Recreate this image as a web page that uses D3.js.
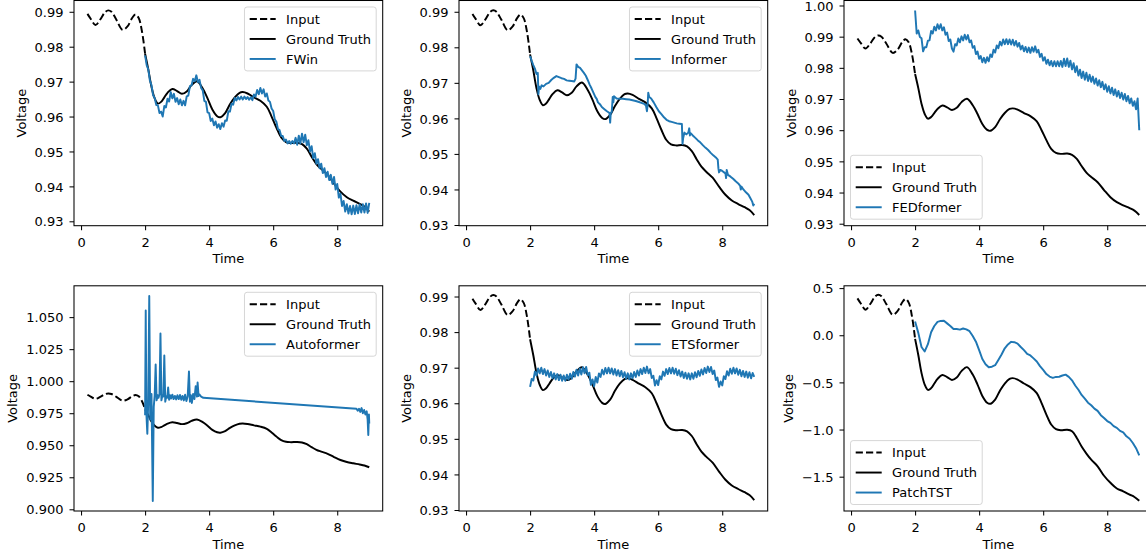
<!DOCTYPE html>
<html>
<head>
<meta charset="utf-8">
<script src="https://cdn.jsdelivr.net/npm/d3@7"></script>
<style>
  body { margin: 0; background: #fff; }
  svg { display: block; font-family: "DejaVu Sans", sans-serif; }
</style>
</head>
<body>
<script>
const width = 1146
const height = 558

// observed window (dashed) and ground truth, raw voltage
const inputTime = [0.2, 0.3, 0.45, 0.6, 0.75, 0.85, 0.95, 1.1, 1.3, 1.45, 1.6, 1.7, 1.8, 1.9, 2.0]
const inputVoltage = [0.9894, 0.9880, 0.9862, 0.9878, 0.9899, 0.9904, 0.9900, 0.9878, 0.9848, 0.9858, 0.9883, 0.9892, 0.9882, 0.9845, 0.9780]
const truthTime = [2.0, 2.1, 2.2, 2.3, 2.4, 2.5, 2.6, 2.7, 2.85, 3.0, 3.15, 3.3, 3.45, 3.62, 3.8, 3.95,
  4.1, 4.25, 4.35, 4.5, 4.65, 4.8, 4.95, 5.05, 5.2, 5.4, 5.6, 5.8, 5.95, 6.1, 6.25, 6.4,
  6.55, 6.75, 6.9, 7.05, 7.2, 7.35, 7.5, 7.7, 7.9, 8.1, 8.3, 8.5, 8.7, 8.85, 9.0]
const truthVoltage = [0.9780, 0.9735, 0.9685, 0.9652, 0.9637, 0.9642, 0.9655, 0.9668, 0.9679, 0.9673, 0.9665, 0.9672, 0.9690, 0.9701, 0.9680, 0.9652,
  0.9620, 0.9601, 0.9598, 0.9610, 0.9635, 0.9655, 0.9668, 0.9670, 0.9666, 0.9655, 0.9645, 0.9628, 0.9600, 0.9568, 0.9540, 0.9527,
  0.9524, 0.9525, 0.9521, 0.9508, 0.9485, 0.9464, 0.9450, 0.9433, 0.9408, 0.9385, 0.9369, 0.9359, 0.9350, 0.9342, 0.9328]

// the PatchTST panel is on the normalised scale
const inputScaled = [0.391, 0.339, 0.271, 0.331, 0.410, 0.429, 0.414, 0.331, 0.218, 0.255, 0.350, 0.384, 0.346, 0.206, -0.039]
const truthScaled = [-0.039, -0.210, -0.399, -0.523, -0.580, -0.561, -0.512, -0.463, -0.421, -0.444, -0.474, -0.448, -0.380, -0.338, -0.417, -0.523,
  -0.644, -0.716, -0.727, -0.682, -0.588, -0.512, -0.463, -0.455, -0.470, -0.512, -0.550, -0.614, -0.720, -0.841, -0.947, -0.996,
  -1.007, -1.003, -1.018, -1.090, -1.180, -1.255, -1.320, -1.390, -1.490, -1.565, -1.625, -1.655, -1.690, -1.715, -1.755]

// evenly sampled forecasts, first sample at t = 2.0
const forecastStart = 2.0
const denseStep = 0.05
const fwinVoltage = [
  0.9775, 0.9747, 0.9735, 0.9703, 0.9690, 0.9661, 0.9653, 0.9633, 0.9632, 0.9610,
  0.9614, 0.9600, 0.9630, 0.9626, 0.9651, 0.9643, 0.9670, 0.9652, 0.9665, 0.9642,
  0.9653, 0.9635, 0.9649, 0.9632, 0.9645, 0.9632, 0.9658, 0.9660, 0.9687, 0.9689,
  0.9708, 0.9701, 0.9718, 0.9698, 0.9705, 0.9682, 0.9675, 0.9645, 0.9642, 0.9612,
  0.9610, 0.9587, 0.9594, 0.9575, 0.9586, 0.9568, 0.9578, 0.9564, 0.9581, 0.9571,
  0.9589, 0.9588, 0.9615, 0.9614, 0.9637, 0.9634, 0.9653, 0.9646, 0.9656, 0.9649,
  0.9657, 0.9649, 0.9657, 0.9650, 0.9656, 0.9648, 0.9655, 0.9647, 0.9663, 0.9657,
  0.9676, 0.9664, 0.9682, 0.9666, 0.9678, 0.9657, 0.9666, 0.9646, 0.9642, 0.9623,
  0.9616, 0.9592, 0.9585, 0.9564, 0.9561, 0.9544, 0.9544, 0.9530, 0.9534, 0.9523,
  0.9530, 0.9522, 0.9530, 0.9523, 0.9539, 0.9519, 0.9545, 0.9523, 0.9551, 0.9526,
  0.9548, 0.9518, 0.9532, 0.9500, 0.9515, 0.9481, 0.9495, 0.9465, 0.9478, 0.9452,
  0.9465, 0.9438, 0.9452, 0.9427, 0.9442, 0.9418, 0.9433, 0.9407, 0.9427, 0.9391,
  0.9407, 0.9368, 0.9379, 0.9344, 0.9358, 0.9328, 0.9349, 0.9322, 0.9344, 0.9320,
  0.9345, 0.9321, 0.9346, 0.9323, 0.9348, 0.9325, 0.9349, 0.9325, 0.9351, 0.9324, 0.9353]
const fedformerVoltage = [
  0.9984, 0.9910, 0.9920, 0.9899, 0.9895, 0.9853, 0.9866, 0.9866, 0.9887, 0.9888,
  0.9918, 0.9910, 0.9932, 0.9920, 0.9940, 0.9925, 0.9940, 0.9920, 0.9930, 0.9906,
  0.9913, 0.9886, 0.9891, 0.9862, 0.9852, 0.9876, 0.9872, 0.9894, 0.9882, 0.9901,
  0.9888, 0.9906, 0.9891, 0.9905, 0.9882, 0.9888, 0.9864, 0.9870, 0.9844, 0.9852,
  0.9829, 0.9838, 0.9818, 0.9832, 0.9816, 0.9834, 0.9821, 0.9843, 0.9835, 0.9858,
  0.9849, 0.9872, 0.9863, 0.9884, 0.9872, 0.9891, 0.9876, 0.9892, 0.9876, 0.9891,
  0.9875, 0.9890, 0.9872, 0.9886, 0.9868, 0.9880, 0.9859, 0.9871, 0.9853, 0.9867,
  0.9850, 0.9865, 0.9848, 0.9866, 0.9852, 0.9869, 0.9849, 0.9858, 0.9835, 0.9845,
  0.9823, 0.9834, 0.9813, 0.9826, 0.9808, 0.9822, 0.9805, 0.9821, 0.9805, 0.9821,
  0.9805, 0.9822, 0.9803, 0.9829, 0.9806, 0.9830, 0.9803, 0.9823, 0.9795, 0.9815,
  0.9786, 0.9805, 0.9775, 0.9794, 0.9767, 0.9788, 0.9762, 0.9784, 0.9758, 0.9778,
  0.9755, 0.9772, 0.9749, 0.9766, 0.9743, 0.9760, 0.9738, 0.9755, 0.9731, 0.9747,
  0.9723, 0.9741, 0.9718, 0.9736, 0.9713, 0.9731, 0.9708, 0.9726, 0.9703, 0.9720,
  0.9698, 0.9716, 0.9693, 0.9710, 0.9686, 0.9702, 0.9678, 0.9693, 0.9667, 0.9702, 0.9600]
const etsformerVoltage = [
  0.9646, 0.9668, 0.9664, 0.9689, 0.9678, 0.9698, 0.9684, 0.9700, 0.9682, 0.9696,
  0.9678, 0.9692, 0.9674, 0.9688, 0.9670, 0.9684, 0.9667, 0.9682, 0.9665, 0.9680,
  0.9663, 0.9678, 0.9663, 0.9680, 0.9666, 0.9683, 0.9669, 0.9688, 0.9675, 0.9694,
  0.9678, 0.9698, 0.9681, 0.9701, 0.9684, 0.9702, 0.9679, 0.9686, 0.9652, 0.9667,
  0.9648, 0.9674, 0.9658, 0.9684, 0.9674, 0.9694, 0.9681, 0.9699, 0.9684, 0.9700,
  0.9684, 0.9698, 0.9681, 0.9696, 0.9678, 0.9693, 0.9676, 0.9691, 0.9673, 0.9687,
  0.9669, 0.9684, 0.9667, 0.9684, 0.9670, 0.9688, 0.9674, 0.9692, 0.9678, 0.9696,
  0.9682, 0.9700, 0.9685, 0.9703, 0.9684, 0.9696, 0.9671, 0.9677, 0.9650, 0.9665,
  0.9651, 0.9676, 0.9667, 0.9689, 0.9677, 0.9696, 0.9682, 0.9699, 0.9684, 0.9700,
  0.9683, 0.9697, 0.9679, 0.9693, 0.9675, 0.9689, 0.9671, 0.9686, 0.9669, 0.9684,
  0.9667, 0.9684, 0.9669, 0.9687, 0.9673, 0.9691, 0.9677, 0.9695, 0.9681, 0.9699,
  0.9685, 0.9703, 0.9688, 0.9702, 0.9682, 0.9692, 0.9665, 0.9672, 0.9646, 0.9661,
  0.9650, 0.9676, 0.9668, 0.9690, 0.9678, 0.9697, 0.9683, 0.9700, 0.9684, 0.9698,
  0.9680, 0.9694, 0.9676, 0.9691, 0.9674, 0.9689, 0.9672, 0.9687, 0.9670, 0.9685, 0.9674]
const patchStep = 0.1
const patchtstScaled = [
  0.146, 0.025, -0.125, -0.172, -0.095, 0.032, 0.098, 0.142, 0.152, 0.153,
  0.126, 0.098, 0.066, 0.066, 0.060, 0.072, 0.062, 0.043, -0.008, -0.068,
  -0.158, -0.252, -0.308, -0.340, -0.334, -0.318, -0.262, -0.204, -0.138, -0.097,
  -0.070, -0.074, -0.088, -0.125, -0.158, -0.198, -0.214, -0.245, -0.278, -0.328,
  -0.368, -0.412, -0.438, -0.452, -0.442, -0.440, -0.427, -0.418, -0.442, -0.478,
  -0.533, -0.578, -0.633, -0.672, -0.715, -0.742, -0.778, -0.802, -0.848, -0.877,
  -0.910, -0.930, -0.964, -0.982, -1.014, -1.030, -1.072, -1.098, -1.143, -1.198, -1.275]

// irregular forecasts (jumps and spikes) as [time, voltage]
const informerPoints = [
  [2.00, 0.9775], [2.05, 0.9762], [2.10, 0.9750], [2.15, 0.9740], [2.20, 0.9725], [2.24, 0.9728], [2.26, 0.9668], [2.28, 0.9690],
  [2.32, 0.9683], [2.36, 0.9693], [2.42, 0.9690], [2.50, 0.9697], [2.58, 0.9700], [2.66, 0.9708], [2.74, 0.9714], [2.82, 0.9719],
  [2.90, 0.9716], [2.98, 0.9713], [3.06, 0.9711], [3.14, 0.9707], [3.22, 0.9706], [3.30, 0.9705], [3.38, 0.9704], [3.42, 0.9712],
  [3.45, 0.9752], [3.50, 0.9745], [3.56, 0.9742], [3.62, 0.9735], [3.68, 0.9728], [3.74, 0.9720], [3.80, 0.9708], [3.86, 0.9695],
  [3.92, 0.9684], [3.98, 0.9672], [4.04, 0.9660], [4.08, 0.9655], [4.12, 0.9645], [4.18, 0.9640], [4.24, 0.9632], [4.32, 0.9626],
  [4.40, 0.9620], [4.48, 0.9615], [4.50, 0.9588], [4.52, 0.9616], [4.55, 0.9618], [4.58, 0.9660], [4.60, 0.9645], [4.62, 0.9662],
  [4.70, 0.9656], [4.80, 0.9655], [4.90, 0.9655], [5.00, 0.9654], [5.10, 0.9653], [5.20, 0.9651], [5.30, 0.9649], [5.40, 0.9646],
  [5.50, 0.9643], [5.58, 0.9640], [5.62, 0.9635], [5.65, 0.9620], [5.67, 0.9638], [5.69, 0.9672], [5.72, 0.9660], [5.78, 0.9656],
  [5.86, 0.9645], [5.94, 0.9632], [6.02, 0.9620], [6.10, 0.9612], [6.18, 0.9603], [6.26, 0.9596], [6.34, 0.9592], [6.42, 0.9590],
  [6.50, 0.9588], [6.58, 0.9586], [6.66, 0.9585], [6.74, 0.9584], [6.76, 0.9528], [6.78, 0.9545], [6.82, 0.9560], [6.88, 0.9555],
  [6.94, 0.9560], [6.97, 0.9572], [6.99, 0.9552], [7.02, 0.9558], [7.08, 0.9552], [7.16, 0.9545], [7.24, 0.9538], [7.32, 0.9532],
  [7.40, 0.9524], [7.48, 0.9517], [7.56, 0.9511], [7.64, 0.9503], [7.72, 0.9496], [7.80, 0.9490], [7.86, 0.9484], [7.88, 0.9460],
  [7.90, 0.9448], [7.94, 0.9455], [8.00, 0.9452], [8.06, 0.9448], [8.10, 0.9445], [8.12, 0.9432], [8.14, 0.9455], [8.18, 0.9441],
  [8.26, 0.9436], [8.34, 0.9430], [8.42, 0.9423], [8.50, 0.9417], [8.56, 0.9410], [8.58, 0.9400], [8.60, 0.9408], [8.66, 0.9400],
  [8.74, 0.9392], [8.82, 0.9385], [8.88, 0.9375], [8.94, 0.9365], [8.97, 0.9355], [9.00, 0.9360]]
const autoformerPoints = [
  [2.00, 0.9735], [2.02, 1.0552], [2.04, 0.9750], [2.07, 0.9590], [2.10, 0.9860], [2.13, 1.0665], [2.16, 0.9700], [2.20, 0.9900],
  [2.24, 0.9065], [2.27, 0.9800], [2.30, 0.9890], [2.33, 1.0130], [2.36, 0.9850], [2.39, 0.9890], [2.42, 0.9870], [2.45, 0.9900],
  [2.48, 1.0372], [2.51, 0.9850], [2.54, 0.9890], [2.57, 0.9880], [2.60, 1.0200], [2.63, 0.9840], [2.66, 0.9880], [2.69, 0.9870],
  [2.72, 0.9950], [2.75, 0.9855], [2.78, 0.9890], [2.81, 0.9865], [2.85, 0.9895], [2.89, 0.9860], [2.93, 0.9885], [2.97, 0.9858],
  [3.01, 0.9890], [3.05, 0.9860], [3.09, 0.9892], [3.13, 0.9855], [3.17, 0.9885], [3.21, 0.9850], [3.25, 0.9895], [3.29, 0.9845],
  [3.33, 0.9880], [3.37, 1.0075], [3.40, 0.9840], [3.43, 0.9890], [3.46, 0.9830], [3.50, 0.9900], [3.54, 0.9860], [3.58, 0.9960],
  [3.62, 0.9880], [3.64, 0.9990], [3.67, 0.9885], [3.70, 0.9895], [3.75, 0.9880], [3.82, 0.9870], [8.60, 0.9785], [8.64, 0.9770],
  [8.68, 0.9785], [8.72, 0.9760], [8.76, 0.9790], [8.80, 0.9750], [8.84, 0.9775], [8.88, 0.9740], [8.92, 0.9765], [8.95, 0.9700],
  [8.97, 0.9580], [8.99, 0.9740], [9.00, 0.9670]]

// axis ticks and limits
const xTicks = [0, 2, 4, 6, 8]
const xLimits = [-0.22, 9.42]
const ticksNarrow = [0.93, 0.94, 0.95, 0.96, 0.97, 0.98, 0.99]
const ticksFed = [0.93, 0.94, 0.95, 0.96, 0.97, 0.98, 0.99, 1.00]
const ticksAuto = [0.900, 0.925, 0.950, 0.975, 1.000, 1.025, 1.050]
const ticksPatch = [-1.5, -1.0, -0.5, 0.0, 0.5]

const blue = "#1f77b4"
const fontSize = 13
const lw = 1.95

const zip = (ts, vs) => ts.map((t, i) => [t, vs[i]])
const sampled = (vs, step) => vs.map((v, i) => [forecastStart + i * step, v])

const rawInput = zip(inputTime, inputVoltage)
const rawTruth = zip(truthTime, truthVoltage)

const panels = [
  {name: "FWin", pred: sampled(fwinVoltage, denseStep), input: rawInput, truth: rawTruth,
    yLim: [0.92874, 0.99323], yTicks: ticksNarrow, fmt: ".2f", legend: "upper right"},
  {name: "Informer", pred: informerPoints, input: rawInput, truth: rawTruth,
    yLim: [0.9298, 0.99317], yTicks: ticksNarrow, fmt: ".2f", legend: "upper right"},
  {name: "FEDformer", pred: sampled(fedformerVoltage, denseStep), input: rawInput, truth: rawTruth,
    yLim: [0.92936, 1.0016], yTicks: ticksFed, fmt: ".2f", legend: "lower left"},
  {name: "Autoformer", pred: autoformerPoints, input: rawInput, truth: rawTruth,
    yLim: [0.89867, 1.07445], yTicks: ticksAuto, fmt: ".3f", legend: "upper right"},
  {name: "ETSformer", pred: sampled(etsformerVoltage, denseStep), input: rawInput, truth: rawTruth,
    yLim: [0.92972, 0.99301], yTicks: ticksNarrow, fmt: ".2f", legend: "upper right"},
  {name: "PatchTST", pred: sampled(patchtstScaled, patchStep), input: zip(inputTime, inputScaled), truth: zip(truthTime, truthScaled),
    yLim: [-1.864, 0.5244], yTicks: ticksPatch, fmt: ".1f", legend: "lower left"}
]

const colLeft = [74, 459, 844]
const rowTop = [0.5, 285.8]
const axW = 308.7
const axH = 225.2

const svg = d3.select("body").append("svg")
  .attr("width", width)
  .attr("height", height)

svg.append("rect").attr("width", width).attr("height", height).attr("fill", "#fff")
const defs = svg.append("defs")

panels.forEach((p, i) => {
  const left = colLeft[i % 3]
  const top = rowTop[Math.floor(i / 3)]
  const x = d3.scaleLinear().domain(xLimits).range([left, left + axW])
  const y = d3.scaleLinear().domain(p.yLim).range([top + axH, top])

  defs.append("clipPath").attr("id", "clip" + i)
    .append("rect")
    .attr("x", left).attr("y", top).attr("width", axW).attr("height", axH)

  const g = svg.append("g")
  const plot = g.append("g").attr("clip-path", `url(#clip${i})`)

  const smooth = d3.line().x(d => x(d[0])).y(d => y(d[1])).curve(d3.curveCatmullRom)
  const straight = d3.line().x(d => x(d[0])).y(d => y(d[1]))

  plot.append("path").datum(p.input)
    .attr("d", smooth)
    .attr("fill", "none").attr("stroke", "#000").attr("stroke-width", lw)
    .attr("stroke-dasharray", "7.2,3.1")
  plot.append("path").datum(p.truth)
    .attr("d", smooth)
    .attr("fill", "none").attr("stroke", "#000").attr("stroke-width", lw)
    .attr("stroke-linejoin", "round")
  plot.append("path").datum(p.pred)
    .attr("d", straight)
    .attr("fill", "none").attr("stroke", blue).attr("stroke-width", lw)
    .attr("stroke-linejoin", "round")

  // axes
  const xAxis = g.append("g")
    .attr("transform", `translate(0,${top + axH})`)
    .call(d3.axisBottom(x).tickValues(xTicks).tickSize(4.5).tickPadding(0).tickFormat(d3.format("d")))
    .attr("font-family", "DejaVu Sans").attr("font-size", fontSize)
  xAxis.select(".domain").remove()
  xAxis.selectAll(".tick line").attr("stroke", "#000").attr("stroke-width", 1.04)
  xAxis.selectAll("text").attr("dy", null).attr("y", 21).attr("fill", "#000")

  const yAxis = g.append("g")
    .attr("transform", `translate(${left},0)`)
    .call(d3.axisLeft(y).tickValues(p.yTicks).tickSize(4.5).tickPadding(6).tickFormat(d3.format(p.fmt)))
    .attr("font-family", "DejaVu Sans").attr("font-size", fontSize)
  yAxis.select(".domain").remove()
  yAxis.selectAll(".tick line").attr("stroke", "#000").attr("stroke-width", 1.04)
  yAxis.selectAll("text").attr("dy", "0.36em").attr("fill", "#000")

  g.append("rect")
    .attr("x", left).attr("y", top).attr("width", axW).attr("height", axH)
    .attr("fill", "none").attr("stroke", "#000").attr("stroke-width", 1.04)

  g.append("text")
    .attr("x", left + axW / 2).attr("y", top + axH + 37.5)
    .attr("text-anchor", "middle").attr("font-size", fontSize)
    .text("Time")

  // the y label sits just left of the widest tick label (bbox is in the axis group's own frame)
  const bb = yAxis.node().getBBox()
  g.append("text")
    .attr("transform", `translate(${left + bb.x - 9},${top + axH / 2}) rotate(-90)`)
    .attr("text-anchor", "middle").attr("font-size", fontSize)
    .text("Voltage")

  // legend
  const entries = [
    {label: "Input", color: "#000", dash: "7.2,3.1"},
    {label: "Ground Truth", color: "#000", dash: null},
    {label: p.name, color: blue, dash: null}
  ]
  const pad = 5.2, rowH = 13.5, gap = 6.5, handleLen = 26, textPad = 10.4
  const lg = g.append("g")
  const frame = lg.append("rect")
  const rows = lg.selectAll("g.entry").data(entries).join("g")
    .attr("class", "entry")
    .attr("transform", (d, k) => `translate(0,${pad + rowH / 2 + k * (rowH + gap)})`)
  rows.append("line")
    .attr("x1", pad).attr("x2", pad + handleLen)
    .attr("stroke", d => d.color).attr("stroke-width", lw)
    .attr("stroke-dasharray", d => d.dash)
  rows.append("text")
    .attr("x", pad + handleLen + textPad).attr("dy", "0.36em")
    .attr("font-size", fontSize)
    .text(d => d.label)
  let maxW = 0
  rows.select("text").each(function () { maxW = Math.max(maxW, this.getComputedTextLength()) })
  const boxW = pad + handleLen + textPad + maxW + pad
  const boxH = 2 * pad + 3 * rowH + 2 * gap
  frame.attr("width", boxW).attr("height", boxH).attr("rx", 2.6)
    .attr("fill", "#fff").attr("fill-opacity", 0.8)
    .attr("stroke", "#cccccc").attr("stroke-opacity", 0.8).attr("stroke-width", 1)
  const lx = p.legend === "upper right" ? left + axW - 6.5 - boxW : left + 6.5
  const ly = p.legend === "upper right" ? top + 6.5 : top + axH - 6.5 - boxH
  lg.attr("transform", `translate(${lx},${ly})`)
})
</script>
</body>
</html>
